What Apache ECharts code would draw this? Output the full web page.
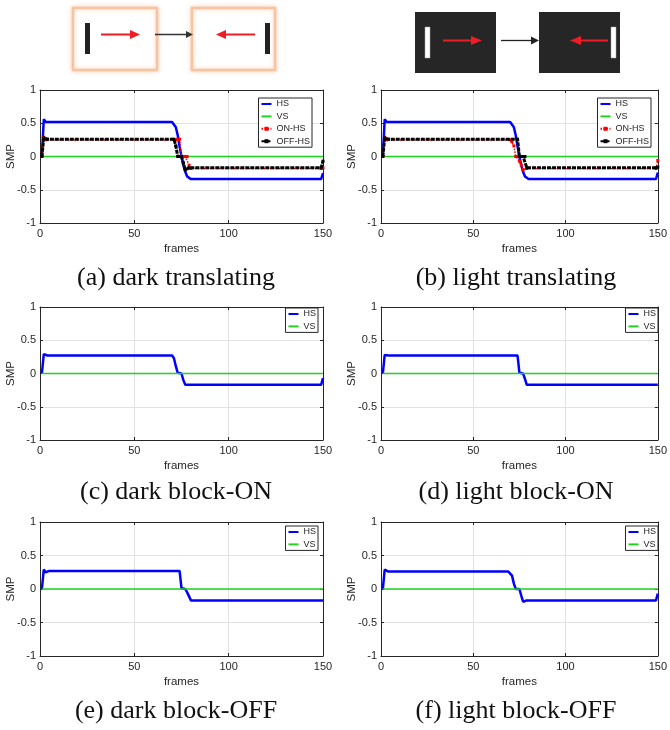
<!DOCTYPE html>
<html><head><meta charset="utf-8">
<script src="https://cdn.jsdelivr.net/npm/echarts@6/dist/echarts.min.js"></script>
<style>html,body{margin:0;padding:0;background:#fff}#c{width:670px;height:730px}</style>
</head><body><div id="c"></div>
<script>
// ---- data (frame, SMP) ----
const xTicks = [0, 50, 100, 150];
const yTicks = [-1, -0.5, 0, 0.5, 1];
const seriesNames = ['HS', 'VS', 'ON-HS', 'OFF-HS'];
const captions = ['(a) dark translating', '(b) light translating', '(c) dark block-ON', '(d) light block-ON', '(e) dark block-OFF', '(f) light block-OFF'];

const hsA  = [[1,0],[2,0.56],[3,0.52],[70,0.52],[72,0.44],[73,0.32],[74,0.15],[75,0],[76,-0.13],[77,-0.23],[78,-0.3],[80,-0.34],[149,-0.34],[150,-0.25]];
const vsA  = [[1,0],[150,0]];
const onA  = [[1,0],[2,0.29],[3,0.25],[72,0.25],[73,0.26],[74,0.26],[75,0],[76,0],[77,0],[78,0],[79,-0.13],[80,-0.18],[149,-0.18],[150,-0.17]];
const offA = [[1,0],[2,0.28],[4,0.26],[71,0.26],[72,0.16],[73,0],[74,0],[75,0],[76,-0.1],[77,-0.2],[79,-0.17],[149,-0.17],[150,-0.07]];

const hsB  = [[1,0],[2,0.56],[3,0.52],[70,0.52],[72,0.44],[73,0.32],[74,0.15],[75,0],[76,-0.13],[77,-0.23],[78,-0.3],[80,-0.34],[149,-0.34],[150,-0.24]];
const vsB  = [[1,0],[150,0]];
const onB  = [[1,0],[2,0.29],[3,0.25],[70,0.25],[71,0.22],[72,0.16],[73,0],[74,0],[75,-0.07],[76,-0.13],[77,-0.2],[79,-0.18],[149,-0.18],[150,-0.06]];
const offB = [[1,0],[2,0.28],[4,0.26],[74,0.26],[75,0],[76,0],[77,0],[78,0],[79,-0.17],[149,-0.17],[150,-0.16]];

const hsC = [[1,0],[2,0.29],[4,0.27],[70,0.27],[71,0.23],[72,0.11],[73,0.01],[75,0],[76,-0.1],[77,-0.17],[149,-0.17],[150,-0.07]];
const vsC = [[1,0],[150,0]];
const hsD = [[1,0],[2,0.28],[4,0.27],[74,0.27],[75,0.01],[77,0],[78,-0.08],[79,-0.17],[150,-0.17]];
const vsD = [[1,0],[150,0]];
const hsE = [[1,0],[2,0.29],[3,0.25],[5,0.27],[74,0.27],[75,0.01],[77,0],[78,-0.05],[80,-0.17],[150,-0.17]];
const vsE = [[1,0],[150,0]];
const hsF = [[1,0],[2,0.29],[4,0.26],[69,0.26],[71,0.2],[72,0.08],[73,0],[75,0],[76,-0.1],[77,-0.19],[79,-0.17],[149,-0.17],[150,-0.07]];
const vsF = [[1,0],[150,0]];

const panelData = [
  {hs: hsA, vs: vsA, on: onA, off: offA},
  {hs: hsB, vs: vsB, on: onB, off: offB},
  {hs: hsC, vs: vsC},
  {hs: hsD, vs: vsD},
  {hs: hsE, vs: vsE},
  {hs: hsF, vs: vsF}
];

// ---- layout ----
const grids = [
  {left: 40, top: 90, width: 283, height: 133},
  {left: 381, top: 90, width: 282, height: 133},
  {left: 40, top: 307, width: 283, height: 133},
  {left: 381, top: 307, width: 282, height: 133},
  {left: 40, top: 522, width: 283, height: 134},
  {left: 381, top: 522, width: 282, height: 134}
];
const legendPos = [
  {right: 358, top: 98}, {right: 19, top: 98},
  {right: 352, top: 308}, {right: 12, top: 308},
  {right: 352, top: 526}, {right: 12, top: 526}
];
const captionPos = [[176, 278], [516, 278], [176, 492], [516, 492], [176, 711], [516, 711]];

const AX = '#262626';
const SANS = '"Liberation Sans", Arial, sans-serif';
const SERIF = '"Liberation Serif", "Times New Roman", serif';
const NONE = 'rgba(0,0,0,0)';

const xAxes = [], yAxes = [], series = [], legends = [];
grids.forEach((g, i) => {
  const mk = () => ({
    gridIndex: i, type: 'value',
    axisLine: {show: true, onZero: false, lineStyle: {color: AX, width: 1}},
    axisTick: {show: true, inside: true, length: 3, lineStyle: {color: AX}},
  });
  xAxes.push(Object.assign(mk(), {
    position: 'bottom', min: xTicks[0], max: xTicks[xTicks.length - 1], interval: xTicks[1] - xTicks[0],
    axisLabel: {fontSize: 11, color: AX, fontFamily: SANS, margin: 5},
    splitLine: {show: true, showMinLine: false, showMaxLine: false, lineStyle: {color: '#e2e2e2', width: 1}},
    name: 'frames', nameLocation: 'middle', nameGap: 20, nameMoveOverlap: false,
    nameTextStyle: {fontSize: 11.5, color: AX, fontFamily: SANS}
  }));
  xAxes.push(Object.assign(mk(), {
    position: 'top', min: xTicks[0], max: xTicks[xTicks.length - 1], interval: xTicks[1] - xTicks[0],
    axisLabel: {show: false}, splitLine: {show: false}
  }));
  yAxes.push(Object.assign(mk(), {
    position: 'left', min: yTicks[0], max: yTicks[yTicks.length - 1], interval: yTicks[1] - yTicks[0],
    axisLabel: {fontSize: 11, color: AX, fontFamily: SANS, margin: 4},
    splitLine: {show: true, showMinLine: false, showMaxLine: false, lineStyle: {color: '#e2e2e2', width: 1}},
    name: 'SMP', nameLocation: 'middle', nameGap: 23, nameRotate: 90, nameMoveOverlap: false,
    nameTextStyle: {fontSize: 11.5, color: AX, fontFamily: SANS}
  }));
  yAxes.push(Object.assign(mk(), {
    position: 'right', min: yTicks[0], max: yTicks[yTicks.length - 1], interval: yTicks[1] - yTicks[0],
    axisLabel: {show: false}, splitLine: {show: false}
  }));

  const d = panelData[i];
  const base = {type: 'line', xAxisIndex: 2 * i, yAxisIndex: 2 * i, animation: false, smooth: false};
  series.push(Object.assign({}, base, {
    name: seriesNames[0], data: d.hs, symbol: 'none', z: 3,
    lineStyle: {color: '#0000ff', width: 2.5}, itemStyle: {color: NONE}
  }));
  series.push(Object.assign({}, base, {
    name: seriesNames[1], data: d.vs, symbol: 'none', z: 4, clip: false,
    lineStyle: {color: '#1fd41f', width: 1.6}, itemStyle: {color: NONE}
  }));
  if (d.on) {
    series.push(Object.assign({}, base, {
      name: seriesNames[2], data: d.on, symbol: 'rect', symbolSize: 3, showAllSymbol: true, z: 5,
      lineStyle: {color: '#ff0000', width: 1.5, type: [1.5, 1.5]}, itemStyle: {color: '#ff0000'}
    }));
    series.push(Object.assign({}, base, {
      name: seriesNames[3], data: d.off, symbol: 'rect', symbolSize: 3, showAllSymbol: true, z: 6,
      lineStyle: {color: '#000000', width: 3, type: [4, 1]}, itemStyle: {color: '#000000'}
    }));
  }
  legends.push(Object.assign({
    data: d.on ? seriesNames.slice() : seriesNames.slice(0, 2),
    orient: 'vertical', itemWidth: 10, itemHeight: 5, itemGap: 2.4,
    padding: [1, 2, 1, 2], borderColor: AX, borderWidth: 1, backgroundColor: '#fff',
    selectedMode: false, z: 10,
    textStyle: {fontSize: 9, lineHeight: 10, color: AX, fontFamily: SANS}
  }, legendPos[i]));
});

// ---- decorative stimulus icons and captions ----
function arrow(x1, x2, y, color, w, headLen, headHalf) {
  const dir = x2 > x1 ? 1 : -1;
  const base = x2 - dir * headLen;
  return [
    {type: 'polyline', shape: {points: [[x1, y], [base, y]]}, style: {stroke: color, lineWidth: w, fill: null}},
    {type: 'polygon', shape: {points: [[x2, y], [base, y - headHalf], [base, y + headHalf]]}, style: {fill: color}}
  ];
}
const graphics = [];
[[73, 8, 84, 62], [192, 8, 83, 62]].forEach(r => graphics.push({
  type: 'rect', shape: {x: r[0], y: r[1], width: r[2], height: r[3]},
  style: {fill: '#fff', stroke: '#f6c4a0', lineWidth: 2.5, shadowBlur: 4, shadowColor: 'rgba(245,170,120,0.55)'}
}));
graphics.push({type: 'rect', shape: {x: 85, y: 23, width: 5, height: 31}, style: {fill: '#222'}});
graphics.push({type: 'rect', shape: {x: 265, y: 23, width: 5, height: 31}, style: {fill: '#222'}});
graphics.push(...arrow(101, 140, 34.5, '#ee1c24', 2, 10, 4.5));
graphics.push(...arrow(255, 216, 34.5, '#ee1c24', 2, 10, 4.5));
graphics.push(...arrow(155, 193, 34.5, '#333', 1.5, 7, 3.5));
[[415, 12, 81, 61], [539, 12, 81, 61]].forEach(r => graphics.push({
  type: 'rect', shape: {x: r[0], y: r[1], width: r[2], height: r[3]}, style: {fill: '#262626'}
}));
graphics.push({type: 'rect', shape: {x: 425, y: 27, width: 5, height: 31}, style: {fill: '#fff', stroke: '#aaa', lineWidth: 0.5}});
graphics.push({type: 'rect', shape: {x: 611, y: 27, width: 5, height: 31}, style: {fill: '#fff', stroke: '#aaa', lineWidth: 0.5}});
graphics.push(...arrow(443, 482, 40.5, '#ee1c24', 2, 11, 4.5));
graphics.push(...arrow(608, 570, 40.5, '#ee1c24', 2, 11, 4.5));
graphics.push(...arrow(501, 539, 40.5, '#222', 1.3, 8, 4));
captions.forEach((t, i) => graphics.push({
  type: 'text',
  style: {text: t, x: captionPos[i][0], y: captionPos[i][1], font: '26px ' + SERIF, fill: '#111',
    textAlign: 'center', textVerticalAlign: 'middle'}
}));

const chart = echarts.init(document.getElementById('c'), null, {renderer: 'canvas'});
chart.setOption({
  animation: false,
  backgroundColor: '#fff',
  grid: grids.map(g => Object.assign({containLabel: false}, g)),
  xAxis: xAxes, yAxis: yAxes, series: series, legend: legends,
  graphic: {elements: graphics}
});
</script></body></html>
